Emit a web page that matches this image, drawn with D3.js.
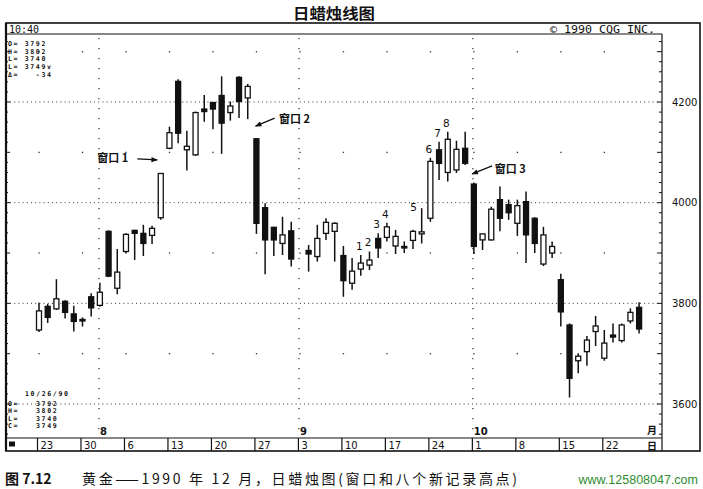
<!DOCTYPE html>
<html><head><meta charset="utf-8">
<script src="https://cdn.jsdelivr.net/npm/d3@7/dist/d3.min.js"></script>
<style>
html,body{margin:0;padding:0;background:#fff;}
svg{display:block;}
</style></head>
<body>
<svg id="c" width="703" height="489"></svg>
<script>
// ---------------- data ----------------
const startDay = "1990-07-23", endDay = "1990-10-26";
const holidays = ["1990-09-03"];
const opens  = [3747,3794,3789,3804,3779,3768,3813,3796,3943,3830,3903,3945,3939,3935,3970,4108,4241,4105,4095,4186,4199,4213,4179,4249,4208,4127,3990,3951,3919,3944,
                3905,3893,3939,3943,3895,3840,3868,3876,3929,3931,3914,3913,3925,3938,3969,4105,4060,4065,4108,
                4037,3926,3926,4006,3996,3959,4002,3969,3878,3900,3847,3757,3686,3704,3744,3691,3737,3726,3765,3792];
const highs  = [3801,3799,3848,3806,3795,3772,3820,3841,3945,3908,3939,3946,3956,3954,4059,4151,4245,4143,4181,4214,4200,4251,4201,4251,4236,4128,3999,3952,3972,3962,
                3916,3956,3969,3961,3914,3890,3896,3903,3939,3960,3946,3923,3946,3989,4089,4121,4141,4123,4141,
                4040,3938,3992,4032,4006,4006,4022,3971,3952,3923,3859,3760,3701,3735,3775,3747,3760,3760,3790,3802];
const lows   = [3743,3761,3787,3770,3744,3754,3774,3793,3852,3818,3900,3886,3894,3918,3966,4106,4118,4064,4093,4161,4146,4097,4163,4168,4166,3938,3858,3894,3896,3873,
                3863,3883,3926,3883,3813,3827,3855,3866,3890,3923,3898,3900,3908,3919,3962,4045,4042,4059,4075,
                3898,3906,3925,3943,3966,3934,3880,3900,3874,3890,3754,3613,3661,3676,3715,3686,3722,3722,3760,3740];
const closes = [3785,3772,3809,3782,3764,3765,3791,3822,3854,3862,3937,3939,3919,3949,4058,4139,4138,4112,4179,4181,4186,4158,4192,4201,4231,3959,3926,3926,3936,3888,
                3898,3929,3961,3959,3845,3864,3880,3886,3910,3952,3933,3912,3943,3942,4082,4078,4126,4106,4078,
                3913,3938,3987,3969,3980,3994,3936,3919,3936,3913,3783,3651,3695,3727,3755,3721,3733,3757,3782,3749];
const yTicks = [3600, 3800, 4000, 4200];
const yDots  = [3700, 3900, 4100, 4300];
const monthLabels = ["8", "9", "10"];
const numberLabels = ["1","2","3","4","5","6","7","8"];
const numberCandles = [37,38,39,40,44,45,46,47]; // indices into slot list
const windowLabels = ["窗口 1", "窗口 2", "窗口 3"];
const topInfo = ["O= 3792", "H= 3802", "L= 3740", "L= 3749v", "Δ=   -34"];
const botInfoKeys = ["O=", "H=", "L=", "C="];
const botInfoVals = ["3792", "3802", "3740", "3749"];
const botDate = "10/26/90";

// ---------------- scales ----------------
const fmt = d3.timeFormat("%Y-%m-%d");
const parse = d3.timeParse("%Y-%m-%d");
const allDays = d3.timeDay.range(parse(startDay), d3.timeDay.offset(parse(endDay), 1))
  .filter(d => d.getDay() !== 0 && d.getDay() !== 6);
const slotKeys = allDays.map(fmt);
const tradeKeys = slotKeys.filter(k => !holidays.includes(k));
const candles = tradeKeys.map((k, i) => ({date: k, o: opens[i], h: highs[i], l: lows[i], c: closes[i]}));

const L = 6, R = 662, OR = 700, T = 23, HB = 34, B = 438, DB = 451;
const x = d3.scalePoint().domain(slotKeys).range([39, 639.1]);
const y = d3.scaleLinear().domain([3600, 4200]).range([404, 102]);
const xi = i => x(slotKeys[i]);

const svg = d3.select("#c");
const ink = "#111";

// title
svg.append("text").attr("x", 293).attr("y", 19).attr("textLength", 82).attr("lengthAdjust", "spacingAndGlyphs")
  .attr("font-family", "Noto Sans CJK SC").attr("font-weight", "bold").attr("font-size", 15).attr("fill", ink)
  .text("日蜡烛线图");

// frames
svg.append("rect").attr("x", L).attr("y", T).attr("width", OR - L).attr("height", DB - T)
  .attr("fill", "none").attr("stroke", ink).attr("stroke-width", 1.6);
svg.append("line").attr("x1", L).attr("x2", R).attr("y1", HB).attr("y2", HB).attr("stroke", ink).attr("stroke-width", 1.2);
svg.append("line").attr("x1", R).attr("x2", R).attr("y1", HB).attr("y2", DB).attr("stroke", ink).attr("stroke-width", 1.2);
svg.append("line").attr("x1", L).attr("x2", R).attr("y1", B).attr("y2", B).attr("stroke", ink).attr("stroke-width", 1.2);
svg.append("line").attr("x1", L).attr("x2", L).attr("y1", T).attr("y2", DB).attr("stroke", ink).attr("stroke-width", 2.2);

// header texts
svg.append("text").attr("x", 9).attr("y", 32.5).attr("font-family", "DejaVu Sans Mono").attr("font-size", 10).attr("fill", ink).text("10:40");
svg.append("text").attr("x", 550).attr("y", 32.5).attr("textLength", 105).attr("lengthAdjust", "spacingAndGlyphs")
  .attr("font-family", "DejaVu Sans Mono").attr("font-size", 10).attr("fill", ink).text("©  1990 CQG INC.");

// minor ticks on left and right plot edges
const minor = d3.range(3540, 4340, 20).filter(v => y(v) > HB + 1 && y(v) < B - 1);
svg.append("g").selectAll("line").data(minor).join("line")
  .attr("x1", R).attr("x2", d => R - (d % 100 === 0 ? 5 : 3))
  .attr("y1", d => y(d)).attr("y2", d => y(d)).attr("stroke", ink).attr("stroke-width", 1);
svg.append("g").selectAll("line").data(minor).join("line")
  .attr("x1", L).attr("x2", d => L + (d % 100 === 0 ? 4 : 2))
  .attr("y1", d => y(d)).attr("y2", d => y(d)).attr("stroke", ink).attr("stroke-width", 1);

// horizontal dotted gridlines
svg.append("g").selectAll("line").data(yTicks).join("line")
  .attr("x1", L + 4).attr("x2", R - 4).attr("y1", d => y(d)).attr("y2", d => y(d))
  .attr("stroke", "#333").attr("stroke-width", 1).attr("stroke-dasharray", "1,3.2");

// dots at odd hundreds on week boundaries
const mondays = allDays.filter(d => d.getDay() === 1);
const dotPts = [];
yDots.forEach(v => mondays.forEach(m => dotPts.push([x(fmt(m)), v])));
svg.append("g").selectAll("rect").data(dotPts.filter(p => y(p[1]) > HB + 3)).join("rect")
  .attr("x", p => p[0] - 0.6).attr("y", p => y(p[1]) - 0.6).attr("width", 1.3).attr("height", 1.3).attr("fill", "#333");

// month vertical dotted lines
const monthStarts = [];
allDays.forEach((d, i) => { if (i > 0 && d.getMonth() !== allDays[i - 1].getMonth()) monthStarts.push(fmt(d)); });
svg.append("g").selectAll("line").data(monthStarts).join("line")
  .attr("x1", d => x(d) - 1).attr("x2", d => x(d) - 1).attr("y1", HB + 4).attr("y2", B - 2)
  .attr("stroke", "#333").attr("stroke-width", 1.2).attr("stroke-dasharray", "1.2,8.8");
svg.append("g").selectAll("text").data(monthStarts).join("text")
  .attr("x", d => x(d)).attr("y", 435).attr("font-family", "DejaVu Sans").attr("font-weight", "bold")
  .attr("font-size", 10).attr("fill", ink).text((d, i) => monthLabels[i]);
svg.append("text").attr("x", 647).attr("y", 434).attr("font-family", "Noto Sans CJK SC").attr("font-weight", "bold")
  .attr("font-size", 10).attr("fill", ink).text("月");

// right axis
const yAxis = d3.axisRight(y).tickValues(yTicks).tickSize(0).tickPadding(0).tickFormat(d3.format("d"));
const ga = svg.append("g").attr("transform", `translate(${R + 10},0)`).call(yAxis);
ga.select(".domain").remove();
ga.selectAll("text").attr("font-family", "DejaVu Sans").attr("font-size", 10).attr("fill", ink);

// date row
const dateRow = svg.append("g");
dateRow.selectAll("line").data(mondays).join("line")
  .attr("x1", d => x(fmt(d)) - 1.5).attr("x2", d => x(fmt(d)) - 1.5).attr("y1", B).attr("y2", DB)
  .attr("stroke", ink).attr("stroke-width", 1.2);
dateRow.selectAll("text").data(mondays).join("text")
  .attr("x", d => x(fmt(d)) + 1.5).attr("y", 448.5).attr("font-family", "DejaVu Sans").attr("font-size", 10).attr("fill", ink)
  .text(d => d.getDate());
svg.append("rect").attr("x", 9).attr("y", 441.5).attr("width", 6).attr("height", 5).attr("fill", ink);
svg.append("text").attr("x", 647).attr("y", 449.5).attr("font-family", "Noto Sans CJK SC").attr("font-weight", "bold")
  .attr("font-size", 10).attr("fill", ink).text("日");

// info blocks
const infoFont = {family: "DejaVu Sans Mono", size: 6.6, ls: 1.6};
svg.append("g").selectAll("text").data(topInfo).join("text")
  .attr("x", 8).attr("y", (d, i) => 46 + i * 7.7).attr("font-family", infoFont.family).attr("font-size", infoFont.size)
  .attr("letter-spacing", infoFont.ls).attr("font-weight", "bold")
  .attr("fill", ink).attr("xml:space", "preserve").style("white-space", "pre").text(d => d);
svg.append("text").attr("x", 25).attr("y", 396).attr("font-family", infoFont.family).attr("font-size", infoFont.size)
  .attr("letter-spacing", infoFont.ls).attr("font-weight", "bold").attr("fill", ink).text(botDate);
svg.append("g").selectAll("text").data(botInfoKeys).join("text")
  .attr("x", 8).attr("y", (d, i) => 406 + i * 7.3).attr("font-family", infoFont.family).attr("font-size", infoFont.size)
  .attr("letter-spacing", infoFont.ls).attr("font-weight", "bold").attr("fill", ink).text(d => d);
svg.append("g").selectAll("text").data(botInfoVals).join("text")
  .attr("x", 36).attr("y", (d, i) => 406 + i * 7.3).attr("font-family", infoFont.family).attr("font-size", infoFont.size)
  .attr("letter-spacing", infoFont.ls).attr("font-weight", "bold").attr("fill", ink).text(d => d);

// candles
const bw = 5;
const cg = svg.append("g");
cg.selectAll("line").data(candles).join("line")
  .attr("x1", d => x(d.date)).attr("x2", d => x(d.date)).attr("y1", d => y(d.h)).attr("y2", d => y(d.l))
  .attr("stroke", ink).attr("stroke-width", 1.5);
cg.selectAll("rect").data(candles).join("rect")
  .attr("x", d => x(d.date) - bw / 2).attr("width", bw)
  .attr("y", d => y(Math.max(d.o, d.c))).attr("height", d => Math.max(1.5, Math.abs(y(d.o) - y(d.c))))
  .attr("fill", d => d.c >= d.o ? "#fff" : ink).attr("stroke", ink).attr("stroke-width", 1.3);

// number labels over new highs
svg.append("g").selectAll("text").data(numberLabels).join("text")
  .attr("x", (d, i) => xi(numberCandles[i]) + (d === "5" ? -8 : -1.5))
  .attr("y", (d, i) => y(highs[tradeKeys.indexOf(slotKeys[numberCandles[i]])]) - (d === "5" ? -3 : 5))
  .attr("text-anchor", "middle").attr("font-family", "DejaVu Sans").attr("font-size", 10.5).attr("fill", ink).text(d => d);

// window (gap) annotations: text anchor slot/price, arrow from/to slot/price
const winText = [[6.7, 4089], [27.6, 4167], [52.4, 4067]];
const winArrow = [[[11.3, 4087], [13.6, 4085]], [[27.1, 4168], [24.9, 4152]], [[52.1, 4073], [49.8, 4057]]];
const xs = s => 39 + s * (x.step());
svg.append("defs").append("marker").attr("id", "ah").attr("viewBox", "0 0 10 10").attr("refX", 9).attr("refY", 5)
  .attr("markerWidth", 6).attr("markerHeight", 5).attr("orient", "auto")
  .append("path").attr("d", "M0,1 L10,5 L0,9 Z").attr("fill", ink);
svg.append("g").selectAll("text").data(windowLabels).join("text")
  .attr("x", (d, i) => xs(winText[i][0])).attr("y", (d, i) => y(winText[i][1]) + 4.5)
  .attr("font-family", "Noto Sans CJK SC").attr("font-weight", "bold").attr("font-size", 11).attr("fill", ink)
  .attr("xml:space", "preserve").style("white-space", "pre").text(d => d);
svg.append("g").selectAll("line").data(winArrow).join("line")
  .attr("x1", d => xs(d[0][0])).attr("y1", d => y(d[0][1])).attr("x2", d => xs(d[1][0])).attr("y2", d => y(d[1][1]))
  .attr("stroke", ink).attr("stroke-width", 1.3).attr("marker-end", "url(#ah)");

// caption
svg.append("text").attr("x", 5).attr("y", 484).attr("font-family", "Noto Sans CJK SC").attr("font-weight", "bold")
  .attr("font-size", 14).attr("fill", ink).text("图 7.12");
svg.append("text").attr("x", 82).attr("y", 484).attr("textLength", 435).attr("lengthAdjust", "spacing")
  .attr("font-family", "Noto Sans CJK SC").attr("font-size", 14).attr("fill", ink)
  .text("黄金——1990 年 12 月，日蜡烛图(窗口和八个新记录高点)");
svg.append("text").attr("x", 698).attr("y", 484).attr("text-anchor", "end").attr("font-family", "Liberation Sans")
  .attr("font-size", 12.5).attr("fill", "#2e8b2e").text("www.125808047.com");
</script>
</body></html>
